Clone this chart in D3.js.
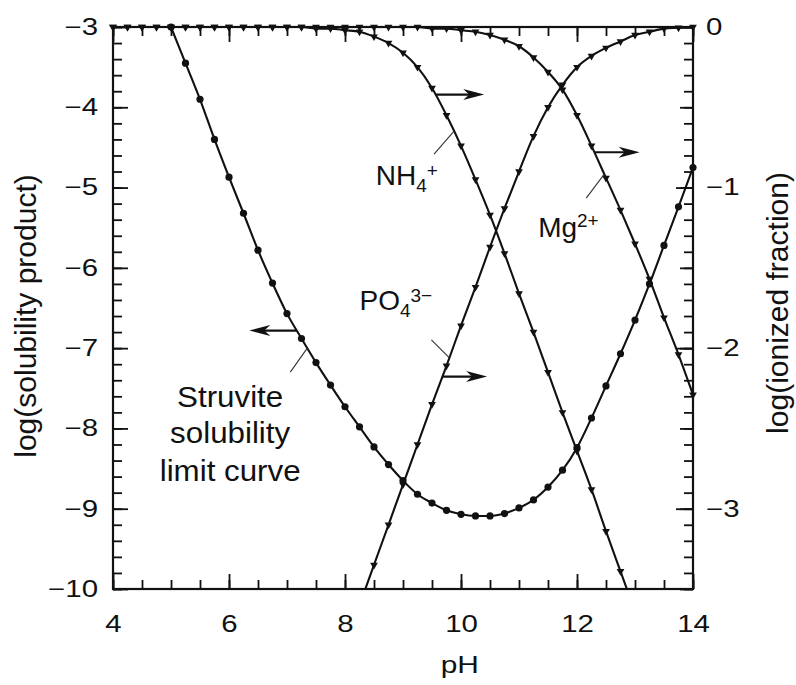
<!DOCTYPE html>
<html>
<head>
<meta charset="utf-8">
<script src="https://cdnjs.cloudflare.com/ajax/libs/d3/7.8.5/d3.min.js"></script>
<style>
	body { margin: 0; background: #fff; }
	svg { display: block; font-family: 'Liberation Sans', Arial, Helvetica, sans-serif; }
</style>
</head>
<body>
<svg id="chart" width="796" height="685"></svg>
<script>
	// pH grid shared by every curve (one marker per step)
	var phGrid = [4, 4.25, 4.5, 4.75, 5, 5.25, 5.5, 5.75, 6, 6.25, 6.5, 6.75, 7, 7.25, 7.5, 7.75,
		8, 8.25, 8.5, 8.75, 9, 9.25, 9.5, 9.75, 10, 10.25, 10.5, 10.75, 11, 11.25, 11.5, 11.75,
		12, 12.25, 12.5, 12.75, 13, 13.25, 13.5, 13.75, 14];

	// log(solubility product), left axis
	var struvite = [null, null, null, null, -3.0, -3.45, -3.90, -4.40, -4.87, -5.32, -5.78, -6.19,
		-6.57, -6.88, -7.18, -7.46, -7.73, -7.98, -8.23, -8.45, -8.65, -8.82, -8.93, -9.02,
		-9.07, -9.09, -9.09, -9.06, -8.99, -8.89, -8.73, -8.52, -8.24, -7.87, -7.47, -7.07,
		-6.65, -6.20, -5.72, -5.24, -4.75];

	// log(ionized fraction), right axis
	var nh4 = [0, 0, 0, 0, 0, 0, 0, 0, 0, 0, 0, 0,
		0, 0, -0.01, -0.01, -0.02, -0.03, -0.06, -0.10, -0.16, -0.25, -0.38, -0.55,
		-0.74, -0.95, -1.17, -1.41, -1.66, -1.90, -2.15, -2.40, -2.64, -2.88, -3.14, -3.39,
		-3.64, null, null, null, null];

	var mg = [0, 0, 0, 0, 0, 0, 0, 0, 0, 0, 0, 0, 0, 0, 0, 0, 0, 0, 0, 0, 0,
		0, -0.01, -0.01, -0.02, -0.03, -0.05, -0.08, -0.12, -0.19, -0.28, -0.39,
		-0.55, -0.74, -0.94, -1.14, -1.35, -1.57, -1.81, -2.04, -2.29];

	var po4 = [null, null, null, null, null, null, null, null, null, null, null, null,
		null, null, null, null, null, -3.60, -3.35, -3.10, -2.85, -2.60, -2.35, -2.11,
		-1.86, -1.62, -1.37, -1.13, -0.90, -0.68, -0.50, -0.36, -0.25, -0.18, -0.13, -0.09,
		-0.05, -0.03, -0.01, -0.005, 0];

	var xTicks = [4, 6, 8, 10, 12, 14];
	var yLeftTicks = [-3, -4, -5, -6, -7, -8, -9, -10];
	var yRightTicks = [0, -1, -2, -3];

	var margin = {top: 27, left: 113};
	var width = 580, height = 562;
	var ink = '#111';

	var svg = d3.select('#chart');
	var cont = svg.append('g')
		.attr('transform', 'translate(' + margin.left + ',' + margin.top + ')');

	// Scales
	var x = d3.scaleLinear().domain([4, 14]).range([0, width]);
	var yL = d3.scaleLinear().domain([-10, -3]).range([height, 0]);
	var yR = d3.scaleLinear().domain([-3.5, 0]).range([height, 0]);

	// stretch text horizontally (the scanned lettering is wide)
	function stretchText(sel, sx) {
		sel.each(function() {
			var t = d3.select(this);
			var tx = +t.attr('x') || 0;
			t.attr('x', tx / sx).attr('transform', 'scale(' + sx + ',1)');
		});
	}

	function styleAxis(g, fontSize) {
		g.select('.domain').remove();
		g.selectAll('line').attr('stroke', ink).attr('stroke-width', 1.8);
		g.selectAll('text')
			.attr('fill', ink)
			.style('font-size', fontSize + 'px');
		return g;
	}

	// Axes: minor ticks first, then majors with labels
	var minorX = d3.range(4, 14.01, 0.5);
	var minorL = d3.range(-3, -10.01, -0.2);
	var minorR = d3.range(0, -3.51, -0.1);
	var halfR = d3.range(0, -3.51, -0.5);

	styleAxis(cont.append('g').attr('transform', 'translate(0,' + height + ')')
		.call(d3.axisBottom(x).tickValues(minorX).tickSize(-9).tickFormat('')), 22);
	var gx = styleAxis(cont.append('g').attr('transform', 'translate(0,' + height + ')')
		.call(d3.axisBottom(x).tickValues(xTicks).tickSize(-15).tickPadding(27).tickFormat(d3.format('d'))), 23);
	stretchText(gx.selectAll('text'), 1.28);

	styleAxis(cont.append('g')
		.call(d3.axisTop(x).tickValues(minorX).tickSize(-9).tickFormat('')), 22);
	styleAxis(cont.append('g')
		.call(d3.axisTop(x).tickValues(xTicks).tickSize(-15).tickFormat('')), 22);

	styleAxis(cont.append('g')
		.call(d3.axisLeft(yL).tickValues(minorL).tickSize(-9).tickFormat('')), 22);
	var gl = styleAxis(cont.append('g')
		.call(d3.axisLeft(yL).tickValues(yLeftTicks).tickSize(-15).tickPadding(15).tickFormat(d3.format('d'))), 23);
	stretchText(gl.selectAll('text'), 1.28);

	styleAxis(cont.append('g').attr('transform', 'translate(' + width + ',0)')
		.call(d3.axisRight(yR).tickValues(minorR).tickSize(-9).tickFormat('')), 22);
	styleAxis(cont.append('g').attr('transform', 'translate(' + width + ',0)')
		.call(d3.axisRight(yR).tickValues(halfR).tickSize(-13).tickFormat('')), 22);
	var gr = styleAxis(cont.append('g').attr('transform', 'translate(' + width + ',0)')
		.call(d3.axisRight(yR).tickValues(yRightTicks).tickSize(-17).tickPadding(13).tickFormat(d3.format('d'))), 23);
	stretchText(gr.selectAll('text'), 1.28);

	// Frame
	cont.append('rect')
		.attr('width', width)
		.attr('height', height)
		.attr('fill', 'none')
		.attr('stroke', ink)
		.attr('stroke-width', 2.2);

	// Clip curves to the plot box (markers get a little slack on the edges)
	var defs = svg.append('defs');
	defs.append('clipPath').attr('id', 'clip-line')
		.append('rect').attr('width', width).attr('height', height);
	defs.append('clipPath').attr('id', 'clip-mark')
		.append('rect').attr('x', -5).attr('y', -5).attr('width', width + 10).attr('height', height + 5);

	function rows(series) {
		return phGrid.map(function(p, i) { return {ph: p, v: series[i]}; });
	}

	var curves = [
		{name: 'struvite', values: struvite, y: yL, mark: 'circle'},
		{name: 'nh4', values: nh4, y: yR, mark: 'tri'},
		{name: 'mg', values: mg, y: yR, mark: 'tri'},
		{name: 'po4', values: po4, y: yR, mark: 'tri'}
	];

	var triangle = d3.symbol().type(d3.symbolTriangle).size(26);

	curves.forEach(function(c) {
		var data = rows(c.values).filter(function(d) { return d.v !== null; });
		var line = d3.line()
			.curve(d3.curveMonotoneX)
			.x(function(d) { return x(d.ph); })
			.y(function(d) { return c.y(d.v); });

		cont.append('path')
			.datum(data)
			.attr('clip-path', 'url(#clip-line)')
			.attr('fill', 'none')
			.attr('stroke', ink)
			.attr('stroke-width', 2.1)
			.attr('d', line);

		var marks = cont.append('g').attr('clip-path', 'url(#clip-mark)');
		if (c.mark === 'circle') {
			marks.selectAll('circle')
				.data(data)
				.enter().append('circle')
					.attr('cx', function(d) { return x(d.ph); })
					.attr('cy', function(d) { return c.y(d.v); })
					.attr('r', 3.6)
					.attr('fill', ink);
		}
		else {
			marks.selectAll('path')
				.data(data.filter(function(d) { return c.y(d.v) <= height + 1; }))
				.enter().append('path')
					.attr('d', triangle)
					.attr('transform', function(d) {
						return 'translate(' + x(d.ph) + ',' + c.y(d.v) + ') rotate(180)';
					})
					.attr('fill', ink);
		}
	});

	// value of a series at any pH (linear between grid points)
	function valueAt(series, ph) {
		for (var i = 0; i < phGrid.length - 1; i++) {
			if (ph >= phGrid[i] && ph <= phGrid[i + 1]) {
				var t = (ph - phGrid[i]) / (phGrid[i + 1] - phGrid[i]);
				return series[i] + t * (series[i + 1] - series[i]);
			}
		}
		return null;
	}

	// Arrows pointing to the axis each curve belongs to
	var arrows = [
		{values: struvite, y: yL, from: 7.17, to: 6.35},
		{values: nh4, y: yR, from: 9.56, to: 10.4},
		{values: mg, y: yR, from: 12.3, to: 13.08},
		{values: po4, y: yR, from: 9.68, to: 10.45}
	];

	arrows.forEach(function(a) {
		var yy = a.y(valueAt(a.values, a.from));
		var x0 = x(a.from), x1 = x(a.to);
		var dir = x1 > x0 ? 1 : -1;
		cont.append('line')
			.attr('x1', x0).attr('x2', x1 - dir * 12)
			.attr('y1', yy).attr('y2', yy)
			.attr('stroke', ink)
			.attr('stroke-width', 2.2);
		cont.append('path')
			.attr('d', 'M' + x1 + ',' + yy + 'L' + (x1 - dir * 21) + ',' + (yy - 5.5) +
				'L' + (x1 - dir * 15) + ',' + yy + 'L' + (x1 - dir * 21) + ',' + (yy + 5.5) + 'Z')
			.attr('fill', ink);
	});

	// Leader lines from labels to curves
	var leaders = [
		{values: nh4, y: yR, ph: 9.88, dx: -20, dy: 23},
		{values: mg, y: yR, ph: 12.47, dx: -18, dy: 24},
		{values: po4, y: yR, ph: 9.8, dx: -18, dy: -18},
		{values: struvite, y: yL, ph: 7.35, dx: -17, dy: 24}
	];

	leaders.forEach(function(l) {
		var px = x(l.ph), py = l.y(valueAt(l.values, l.ph));
		cont.append('line')
			.attr('x1', px).attr('y1', py)
			.attr('x2', px + l.dx).attr('y2', py + l.dy)
			.attr('stroke', '#333')
			.attr('stroke-width', 1.1);
	});

	// Curve labels
	function label(ph, val, main, sub, sup, subDy, supDy) {
		var t = cont.append('text')
			.attr('x', x(ph))
			.attr('y', yL(val))
			.attr('fill', ink)
			.style('font-size', '28px')
			.text(main);
		if (sub) {
			t.append('tspan').attr('dy', subDy).style('font-size', '19px').text(sub);
		}
		if (sup) {
			t.append('tspan').attr('dy', supDy).style('font-size', '19px').text(sup);
		}
	}

	label(8.53, -4.97, 'NH', '4', '+', 7, -15);
	label(11.33, -5.62, 'Mg', null, '2+', 0, -10);
	label(8.25, -6.52, 'PO', '4', '3\u2212', 7, -15);

	var struviteLines = ['Struvite', 'solubility', 'limit curve'];
	var struviteBase = [-7.73, -8.18, -8.65];
	struviteLines.forEach(function(s, i) {
		var t = cont.append('text')
			.attr('x', x(6.02))
			.attr('y', yL(struviteBase[i]))
			.attr('text-anchor', 'middle')
			.attr('fill', ink)
			.style('font-size', '29px')
			.text(s);
		stretchText(t, 1.08);
	});

	// Axis titles
	var px = svg.append('text')
		.attr('x', margin.left + x(9.98))
		.attr('y', 673)
		.attr('text-anchor', 'middle')
		.attr('fill', ink)
		.style('font-size', '23px')
		.text('pH');
	stretchText(px, 1.3);

	svg.append('text')
		.attr('transform', 'translate(36,316) rotate(-90)')
		.attr('text-anchor', 'middle')
		.attr('fill', ink)
		.style('font-size', '30px')
		.text('log(solubility product)');

	svg.append('text')
		.attr('transform', 'translate(788,303) rotate(-90)')
		.attr('text-anchor', 'middle')
		.attr('fill', ink)
		.style('font-size', '30px')
		.text('log(ionized fraction)');
</script>
</body>
</html>
